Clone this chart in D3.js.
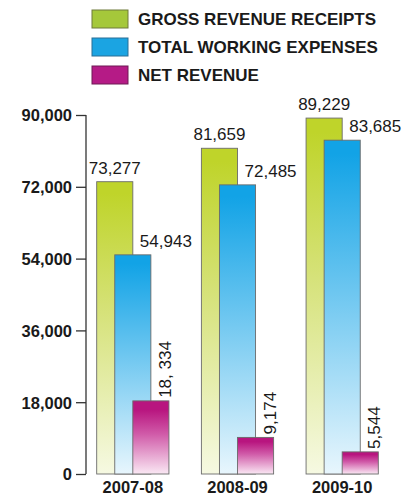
<!DOCTYPE html>
<html>
<head>
<meta charset="utf-8">
<script src="https://cdn.jsdelivr.net/npm/d3@7"></script>
<style>
  html, body { margin: 0; padding: 0; background: #fff; }
  svg { display: block; }
  text { font-family: "Liberation Sans", Arial, Helvetica, sans-serif; fill: #1a1a1a; }
</style>
</head>
<body>
<svg id="chart" width="403" height="497"></svg>
<script>
// Railway revenue figures by year
const years = ["2007-08", "2008-09", "2009-10"];
const seriesNames = ["GROSS REVENUE RECEIPTS", "TOTAL WORKING EXPENSES", "NET REVENUE"];
const grossRevenue = [73277, 81659, 89229];
const workingExpenses = [54943, 72485, 83685];
const netRevenue = [18334, 9174, 5544];
const netRevenueLabels = ["18, 334", "9,174", "5,544"];
const yTicks = [0, 18000, 36000, 54000, 72000, 90000];

const fmt = d3.format(",");
const seriesValues = [grossRevenue, workingExpenses, netRevenue];

const palette = [
  { top: "#bfd42a", mid: "#d6e27a", bottom: "#f6f9e2", key: "#a5c83a", keyEdge: "#6f7a3a" },
  { top: "#12a3e6", mid: "#6cc6f0", bottom: "#e8f6fd", key: "#1ba4e2", keyEdge: "#2a6f95" },
  { top: "#b8157f", mid: "#d05aa8", bottom: "#fae8f4", key: "#b51b86", keyEdge: "#6e1a55" }
];

const svg = d3.select("#chart");
const defs = svg.append("defs");

palette.forEach((p, i) => {
  const g = defs.append("linearGradient")
    .attr("id", "bar-grad-" + i)
    .attr("x1", 0).attr("y1", 0).attr("x2", 0).attr("y2", 1);
  g.append("stop").attr("offset", "0%").attr("stop-color", p.top);
  g.append("stop").attr("offset", i === 2 ? "12%" : "4%").attr("stop-color", p.top);
  g.append("stop").attr("offset", "45%").attr("stop-color", p.mid);
  g.append("stop").attr("offset", "100%").attr("stop-color", p.bottom);
});

// Scales
const y = d3.scaleLinear().domain([0, 90000]).range([474, 115]);
const x0 = d3.scaleBand().domain(years).range([96.7, 378.3]).paddingInner(0.31).paddingOuter(0);
const barW = x0.bandwidth() / 2;
const x1 = d3.scalePoint().domain(seriesNames).range([0, barW]);

// Legend
const legend = svg.append("g");
seriesNames.forEach((name, i) => {
  const row = legend.append("g").attr("transform", `translate(92,${10 + i * 28})`);
  row.append("rect")
    .attr("width", 36).attr("height", 18)
    .attr("fill", palette[i].key)
    .attr("stroke", palette[i].keyEdge)
    .attr("stroke-width", 1);
  row.append("text")
    .attr("x", 46).attr("y", 15)
    .attr("font-size", 17)
    .attr("font-weight", "bold")
    .text(name);
});

// Y axis
const yAxis = d3.axisLeft(y)
  .tickValues(yTicks)
  .tickSize(10)
  .tickPadding(4)
  .tickFormat(fmt);

const axisG = svg.append("g")
  .attr("transform", "translate(86,0)")
  .call(yAxis);
axisG.select(".domain").attr("stroke", "#333").attr("stroke-width", 1.3)
  .attr("d", `M0,${y(90000)}V${y(0)}`);
axisG.selectAll(".tick line").attr("stroke", "#333").attr("stroke-width", 1.3);
axisG.selectAll(".tick text")
  .attr("font-size", 16.5)
  .attr("font-weight", "bold")
  .attr("font-family", "Liberation Sans, Arial, sans-serif")
  .attr("fill", "#1a1a1a")
  .attr("dy", "0.36em");

// Bars
const groups = svg.append("g").selectAll("g")
  .data(years)
  .join("g")
  .attr("transform", d => `translate(${x0(d)},0)`);

seriesNames.forEach((name, si) => {
  groups.append("rect")
    .attr("x", x1(name))
    .attr("y", (d, yi) => y(seriesValues[si][yi]))
    .attr("width", barW)
    .attr("height", (d, yi) => y(0) - y(seriesValues[si][yi]))
    .attr("fill", `url(#bar-grad-${si})`)
    .attr("stroke", "#6b6b6b")
    .attr("stroke-width", 0.9);
});

// Value labels: gross over its bar, expenses to the right, net rotated
groups.append("text")
  .attr("x", x1(seriesNames[0]) + barW / 2)
  .attr("y", (d, i) => y(grossRevenue[i]) - 8)
  .attr("text-anchor", "middle")
  .attr("font-size", 17)
  .text((d, i) => fmt(grossRevenue[i]));

groups.append("text")
  .attr("x", x1(seriesNames[1]) + barW - 11)
  .attr("y", (d, i) => y(workingExpenses[i]) - 8)
  .attr("text-anchor", "start")
  .attr("font-size", 17)
  .text((d, i) => fmt(workingExpenses[i]));

groups.append("text")
  .attr("transform", (d, i) =>
    `translate(${x1(seriesNames[2]) + barW + 2},${y(netRevenue[i]) - 3}) rotate(-90)`)
  .attr("text-anchor", "start")
  .attr("font-size", 17)
  .text((d, i) => netRevenueLabels[i]);

// Category labels
groups.append("text")
  .attr("x", x0.bandwidth() / 2)
  .attr("y", 493)
  .attr("text-anchor", "middle")
  .attr("font-size", 16.5)
  .attr("font-weight", "bold")
  .text(d => d);
</script>
</body>
</html>
